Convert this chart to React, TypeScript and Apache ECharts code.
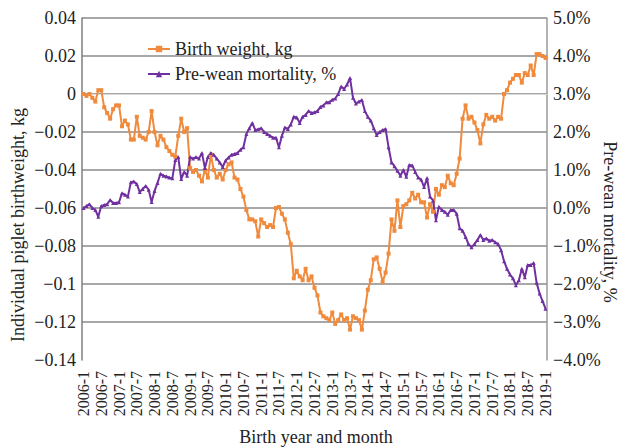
import React, { useEffect, useRef } from "react";
import * as echarts from "echarts";

const startYear = 2006;
const endYear = 2019;

const birthWeight = [
  0.0, -0.001, 0.0, -0.002, -0.004, 0.002, 0.002, -0.007, -0.01, -0.013, -0.008, -0.006,
  -0.006, -0.017, -0.014, -0.016, -0.024, -0.024, -0.012, -0.022, -0.023, -0.024, -0.02, -0.009,
  -0.02, -0.027, -0.022, -0.024, -0.028, -0.03, -0.032, -0.033, -0.022, -0.013, -0.02, -0.018,
  -0.039, -0.041, -0.04, -0.043, -0.046, -0.04, -0.044, -0.032, -0.04, -0.044, -0.042, -0.045,
  -0.04, -0.037, -0.036, -0.044, -0.045, -0.05, -0.054, -0.061, -0.066, -0.066, -0.067, -0.075,
  -0.066, -0.068, -0.07, -0.069, -0.07, -0.06, -0.0595, -0.063, -0.066, -0.073, -0.079, -0.097,
  -0.093, -0.096, -0.098, -0.092, -0.098, -0.096, -0.102, -0.106, -0.115, -0.117, -0.118, -0.119,
  -0.115, -0.121, -0.119, -0.116, -0.119, -0.118, -0.124, -0.117, -0.118, -0.119, -0.124, -0.114,
  -0.103, -0.098, -0.087, -0.086, -0.092, -0.099, -0.094, -0.084, -0.066, -0.072, -0.056, -0.07,
  -0.059, -0.058, -0.056, -0.052, -0.055, -0.053, -0.057, -0.057, -0.065, -0.058, -0.062, -0.05,
  -0.053, -0.048, -0.049, -0.043, -0.047, -0.048, -0.042, -0.034, -0.013, -0.006, -0.013, -0.012,
  -0.015, -0.019, -0.026, -0.016, -0.011, -0.013, -0.012, -0.014, -0.012, -0.013, 0.0, 0.002,
  0.006, 0.008, 0.01, 0.01, 0.006, 0.011, 0.01, 0.015, 0.01, 0.021, 0.021, 0.02,
  0.019,
];

const mortality = [
  0.0, 0.05, 0.1, 0.0, -0.05, -0.23, 0.05, 0.08, 0.1, 0.21, 0.13, 0.13,
  0.15, 0.39, 0.35, 0.3, 0.68, 0.7, 0.63, 0.42, 0.5, 0.58, 0.48, 0.16,
  0.45, 0.66, 0.9, 0.85, 0.83, 0.8, 0.78, 1.26, 1.34, 0.76, 0.95, 0.85,
  1.34, 1.3, 1.34, 1.3, 1.45, 1.05, 1.34, 1.45, 1.4, 1.3, 1.2, 1.08,
  1.25, 1.33, 1.4, 1.42, 1.45, 1.53, 1.6, 1.95, 2.1, 2.24, 2.05, 2.07,
  2.1, 2.0, 1.95, 1.9, 1.85, 1.85, 1.6, 1.9, 2.12, 2.08, 2.2, 2.4,
  2.38, 2.24, 2.4, 2.45, 2.55, 2.5, 2.52, 2.55, 2.66, 2.7, 2.78, 2.78,
  2.85, 2.88, 3.0, 3.2, 3.13, 3.25, 3.42, 2.9, 2.75, 2.8, 2.84, 2.55,
  2.4, 2.3, 2.1, 1.92, 2.0, 2.05, 2.08, 1.6, 1.2, 1.1, 0.98, 0.85,
  1.0, 0.82, 1.13, 1.12, 0.95, 0.8, 0.75, 0.55, 0.79, 0.3, 0.2, -0.32,
  0.03, -0.05, -0.1, -0.18, -0.05, -0.05, -0.15, -0.53, -0.6, -0.76, -0.95, -1.03,
  -0.95, -0.84, -0.71, -0.84, -0.8, -0.86, -0.84, -0.9, -0.95, -1.11, -1.4, -1.6,
  -1.75, -1.85, -2.03, -1.9, -1.6, -1.82, -1.5, -1.5, -1.45, -1.97, -2.25, -2.45,
  -2.65,
];

const months: string[] = [];
for (let y = startYear; y <= endYear; y++) {
  for (let m = 1; m <= 12; m++) {
    if (y === endYear && m > 1) break;
    months.push(`${y}-${m}`);
  }
}

const seriesNames = ["Birth weight, kg", "Pre-wean mortality, %"];
const leftTitle = "Individual piglet birthweight, kg";
const rightTitle = "Pre-wean mortality, %";
const bottomTitle = "Birth year and month";

const FONT = "'Liberation Serif', 'Times New Roman', serif";
const ORANGE = "#F08A3C";
const PURPLE = "#7030A0";

function fmtLeft(v: number) {
  const r = Math.round(v * 100) / 100;
  if (r === 0) return "0";
  return r < 0 ? "\u2212" + String(Math.abs(r)) : String(r);
}
function fmtRight(v: number) {
  const r = Math.round(v * 10) / 10;
  if (r === 0) return "0.0%";
  return (r < 0 ? "\u2212" : "") + Math.abs(r).toFixed(1) + "%";
}

export default function App() {
  const ref = useRef<HTMLDivElement>(null);
  useEffect(() => {
    if (!ref.current) return;
    const chart = echarts.init(ref.current, undefined, { renderer: "svg" });
    chart.setOption({
      animation: false,
      backgroundColor: "#ffffff",
      grid: { left: 82, right: 80, top: 18, bottom: 88, containLabel: false },
      legend: {
        data: seriesNames,
        orient: "vertical",
        left: 142,
        top: 35,
        itemWidth: 22,
        itemHeight: 8,
        itemGap: 7,
        textStyle: { fontFamily: FONT, fontSize: 18, color: "#222" },
      },
      xAxis: {
        type: "category",
        data: months,
        boundaryGap: true,
        axisLine: { show: true, lineStyle: { color: "#d9d9d9", width: 1 } },
        axisTick: { show: false },
        axisLabel: {
          interval: 5,
          rotate: 90,
          margin: 11,
          fontFamily: FONT,
          fontSize: 16,
          color: "#222",
        },
        splitLine: { show: false },
      },
      yAxis: [
        {
          type: "value",
          min: -0.14,
          max: 0.04,
          interval: 0.02,
          axisLine: { show: true, lineStyle: { color: "#7f7f7f", width: 1.5 } },
          axisTick: { show: false },
          axisLabel: {
            formatter: fmtLeft,
            margin: 6,
            fontFamily: FONT,
            fontSize: 18,
            color: "#222",
          },
          splitLine: {
            show: true,
            showMinLine: false,
            lineStyle: { color: "#8a8a8a", width: 1.5 },
          },
        },
        {
          type: "value",
          min: -4,
          max: 5,
          interval: 1,
          axisLine: { show: true, lineStyle: { color: "#9a9a9a", width: 1.5 } },
          axisTick: { show: false },
          axisLabel: {
            formatter: fmtRight,
            margin: 6,
            fontFamily: FONT,
            fontSize: 18,
            color: "#222",
          },
          splitLine: { show: false },
        },
      ],
      series: [
        {
          name: seriesNames[0],
          type: "line",
          yAxisIndex: 0,
          data: birthWeight,
          symbol: "rect",
          symbolSize: 4,
          showAllSymbol: true,
          lineStyle: { color: ORANGE, width: 2 },
          itemStyle: { color: ORANGE },
        },
        {
          name: seriesNames[1],
          type: "line",
          yAxisIndex: 1,
          data: mortality,
          symbol: "triangle",
          symbolSize: 4,
          showAllSymbol: true,
          lineStyle: { color: PURPLE, width: 2 },
          itemStyle: { color: PURPLE },
        },
      ],
      graphic: [
        {
          type: "text",
          x: 18,
          y: 225,
          rotation: Math.PI / 2,
          style: {
            text: leftTitle,
            font: `18px ${FONT}`,
            fill: "#222",
            align: "center",
            verticalAlign: "middle",
            textAlign: "center",
            textVerticalAlign: "middle",
          },
        },
        {
          type: "text",
          x: 610,
          y: 222,
          rotation: -Math.PI / 2,
          style: {
            text: rightTitle,
            font: `18px ${FONT}`,
            fill: "#222",
            align: "center",
            verticalAlign: "middle",
            textAlign: "center",
            textVerticalAlign: "middle",
          },
        },
        {
          type: "text",
          x: 316,
          y: 437,
          style: {
            text: bottomTitle,
            font: `18px ${FONT}`,
            fill: "#222",
            align: "center",
            verticalAlign: "middle",
            textAlign: "center",
            textVerticalAlign: "middle",
          },
        },
      ],
    });
    return () => chart.dispose();
  }, []);
  return (
    <div
      ref={ref}
      style={{ position: "fixed", left: 0, top: 0, width: 627, height: 448 }}
    />
  );
}
